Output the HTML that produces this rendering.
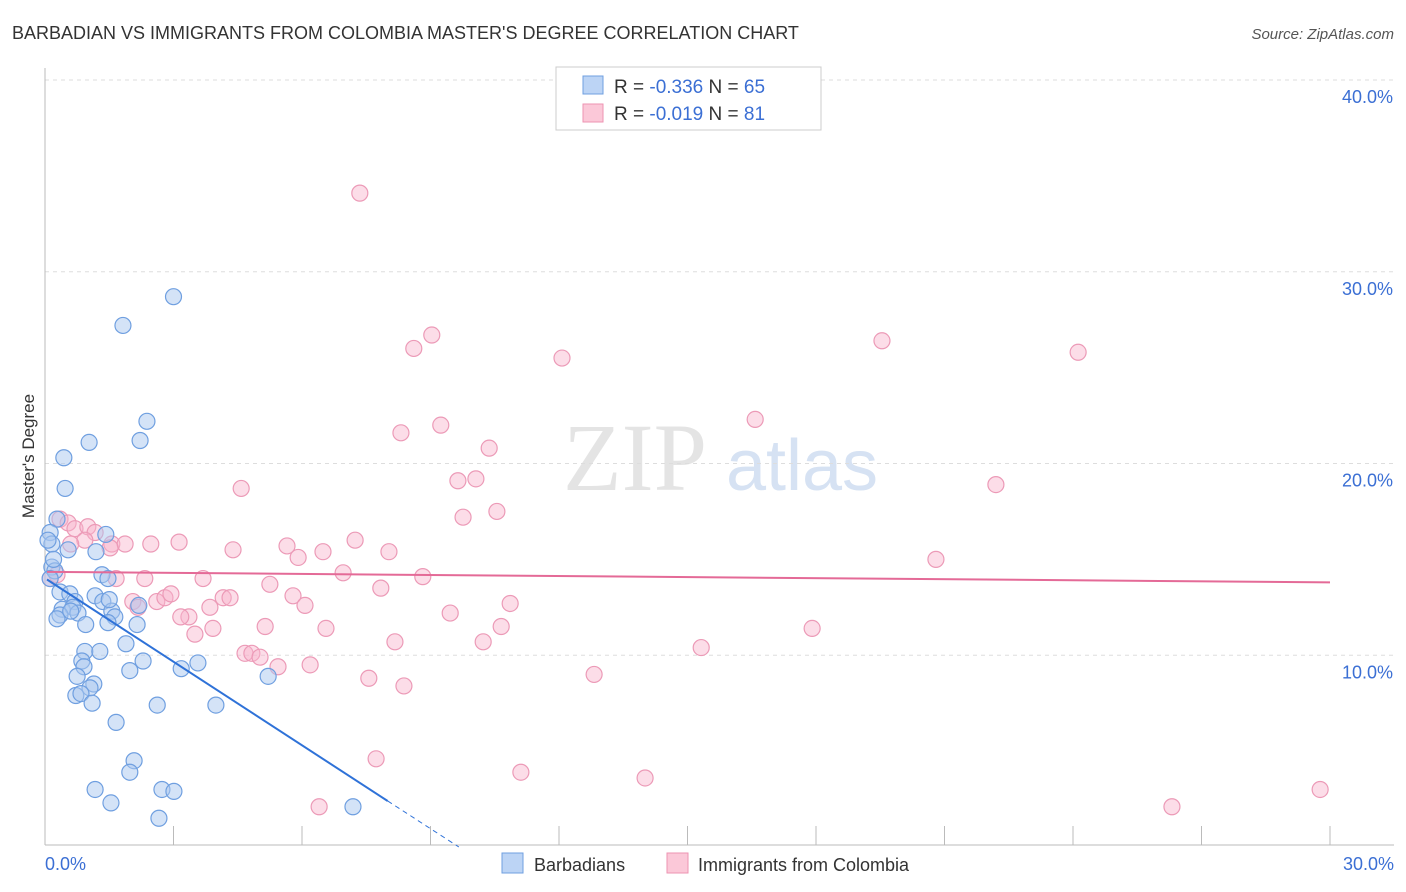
<!DOCTYPE html>
<html><head><meta charset="utf-8"><style>
body{margin:0;background:#fff;font-family:"Liberation Sans",sans-serif;}
svg{display:block}
</style></head><body>
<svg id="chart" width="1406" height="892" xmlns="http://www.w3.org/2000/svg">
<text x="12" y="39" font-size="18" fill="#333">BARBADIAN VS IMMIGRANTS FROM COLOMBIA MASTER'S DEGREE CORRELATION CHART</text>
<text x="1394" y="39" font-size="15" fill="#555" text-anchor="end" font-style="italic">Source: ZipAtlas.com</text>
<g>
<text x="635" y="490" font-size="96" fill="#e4e4e4" text-anchor="middle" font-family="Liberation Serif">ZIP</text>
<text x="802" y="490" font-size="72" fill="#d6e2f3" text-anchor="middle">atlas</text>
</g>
<g id="grid"></g>
<g id="axes"></g>
<g id="points"></g>
<g id="lines"></g>
<text transform="translate(34,456) rotate(-90)" font-size="17" fill="#333" text-anchor="middle">Master's Degree</text>
<text x="45" y="870" font-size="18" fill="#3b6fd4">0.0%</text>
<text x="1394" y="870" font-size="18" fill="#3b6fd4" text-anchor="end">30.0%</text>
<g>
<rect x="556" y="67" width="265" height="63" fill="#fff" stroke="#ccc"/>
<rect x="583" y="76" width="20" height="18" fill="#bcd4f5" stroke="#6f9fe0"/>
<rect x="583" y="104" width="20" height="18" fill="#fbc8d8" stroke="#ee93b2"/>
<text x="614" y="93" font-size="19" fill="#333">R = <tspan fill="#3b6fd4">-0.336</tspan>   N = <tspan fill="#3b6fd4">65</tspan></text>
<text x="614" y="120" font-size="19" fill="#333">R = <tspan fill="#3b6fd4">-0.019</tspan>   N = <tspan fill="#3b6fd4"> 81</tspan></text>
</g>
<g>
<rect x="502" y="853" width="21" height="20" fill="#bcd4f5" stroke="#6f9fe0"/>
<text x="534" y="871" font-size="18" fill="#333">Barbadians</text>
<rect x="667" y="853" width="21" height="20" fill="#fbc8d8" stroke="#ee93b2"/>
<text x="698" y="871" font-size="18" fill="#333">Immigrants from Colombia</text>
</g>
</svg>
<script>
const yTicks=[10,20,30,40];
const yTickLabels=["10.0%","20.0%","30.0%","40.0%"];
const xTicks=[3,6,9,12,15,18,21,24,27,30];
const blueX=[3.0,1.82,2.38,2.22,1.03,0.44,0.47,0.28,0.12,0.16,0.54,1.19,1.42,0.16,0.23,1.33,1.47,0.35,0.58,1.17,0.7,1.35,0.4,0.65,0.77,0.35,1.56,1.63,1.47,2.15,2.19,1.89,0.93,1.28,0.86,0.91,2.29,1.98,3.57,3.18,0.75,1.14,1.05,0.72,0.84,1.1,2.62,3.99,1.66,5.21,2.08,1.98,1.17,1.54,2.73,3.01,2.66,7.19,0.07,0.12,0.28,0.6,1.5,0.2,0.95];
const blueY=[28.7,27.2,22.2,21.2,21.1,20.3,18.7,17.1,16.4,15.8,15.5,15.4,16.3,14.6,14.4,14.2,14.0,13.3,13.2,13.1,12.8,12.8,12.4,12.5,12.2,12.1,12.3,12.0,11.7,11.6,12.6,10.6,10.2,10.2,9.7,9.4,9.7,9.2,9.6,9.3,8.9,8.5,8.3,7.9,8.0,7.5,7.4,7.4,6.5,8.9,4.5,3.9,3.0,2.3,3.0,2.9,1.5,2.1,16.0,14.0,11.9,12.3,12.9,15.0,11.6];
const pinkX=[7.35,9.03,8.61,12.07,19.54,24.12,16.58,8.31,9.24,10.37,4.58,9.64,10.06,9.76,10.55,22.2,20.8,0.35,0.54,0.7,1.0,1.17,0.93,1.56,1.87,2.47,3.13,4.39,5.65,5.91,6.49,7.24,8.03,6.96,1.66,2.33,3.69,5.25,8.82,7.84,5.79,6.07,2.05,2.61,2.8,2.94,4.16,4.32,3.85,3.36,3.17,2.17,5.14,3.92,3.5,6.56,9.46,10.86,10.65,10.23,8.17,4.67,4.83,5.02,5.44,6.19,7.56,8.38,12.82,15.32,17.91,7.73,11.11,14.01,6.40,26.31,29.77,0.12,0.28,1.52,0.6];
const pinkY=[34.1,26.7,26.0,25.5,26.4,25.8,22.3,21.6,22.0,20.8,18.7,19.1,19.2,17.2,17.5,18.9,15.0,17.1,16.9,16.6,16.7,16.4,16.0,15.8,15.8,15.8,15.9,15.5,15.7,15.1,15.4,16.0,15.4,14.3,14.0,14.0,14.0,13.7,14.1,13.5,13.1,12.6,12.8,12.8,13.0,13.2,13.0,13.0,12.5,12.0,12.0,12.5,11.5,11.4,11.1,11.4,12.2,12.7,11.5,10.7,10.7,10.1,10.1,9.9,9.4,9.5,8.8,8.4,9.0,10.4,11.4,4.6,3.9,3.6,2.1,2.1,3.0,14.0,14.2,15.6,15.8];
const blueTrend=[0,13.95,8,2.4];
const pinkTrend=[0,14.35,30,13.8];
const X0=45,X1=1330,Y0=847,Y40=80;
const sx=v=>X0+(X1-X0)*v/30;
const sy=v=>Y0-(Y0-Y40)*v/40;
const NS="http://www.w3.org/2000/svg";
function mk(tag,attrs,parent){const e=document.createElementNS(NS,tag);for(const k in attrs)e.setAttribute(k,attrs[k]);document.getElementById(parent).appendChild(e);return e;}
yTicks.forEach((t,i)=>{
 const g=mk('line',{x1:45,x2:1394,y1:sy(t),y2:sy(t),stroke:'#ddd','stroke-dasharray':'4,4'},'grid');
 
 
 const l=mk('text',{x:1393,y:sy(t)+23,'font-size':18,fill:'#3b6fd4','text-anchor':'end'},'grid');
 l.textContent=yTickLabels[i];
 
 
});
const ax=mk('line',{x1:45,x2:45,y1:68,y2:845,stroke:'#bbb'},'axes');


const bx=mk('line',{x1:45,x2:1394,y1:845,y2:845,stroke:'#bbb'},'axes');


xTicks.forEach(t=>{
 const k=mk('line',{x1:sx(t),x2:sx(t),y1:826,y2:845,stroke:'#bbb'},'axes');
 
 
});
pinkX.forEach((x,i)=>{
 const c=mk('circle',{cx:sx(x),cy:sy(pinkY[i]),r:8,fill:'rgba(248,180,204,0.45)',stroke:'#ec9ab7','stroke-width':1.2},'points');
 
 
});
blueX.forEach((x,i)=>{
 const c=mk('circle',{cx:sx(x),cy:sy(blueY[i]),r:8,fill:'rgba(170,200,240,0.5)',stroke:'#6f9fe0','stroke-width':1.2},'points');
 
 
});
const slope=(blueTrend[3]-blueTrend[1])/(blueTrend[2]-blueTrend[0]);
const bl=mk('line',{x1:sx(blueTrend[0])+2,y1:sy(blueTrend[1]),x2:sx(blueTrend[2]),y2:sy(blueTrend[3]),stroke:'#2f72d8','stroke-width':2},'lines');


const xe=blueTrend[2]+(0-blueTrend[3])/slope;
const bd=mk('line',{x1:sx(blueTrend[2]),y1:sy(blueTrend[3]),x2:sx(xe),y2:sy(0),stroke:'#2f72d8','stroke-width':1,'stroke-dasharray':'5,4'},'lines');


const pl=mk('line',{x1:sx(pinkTrend[0])+2,y1:sy(pinkTrend[1]),x2:sx(pinkTrend[2]),y2:sy(pinkTrend[3]),stroke:'#e46a97','stroke-width':2},'lines');


</script>
</body></html>
